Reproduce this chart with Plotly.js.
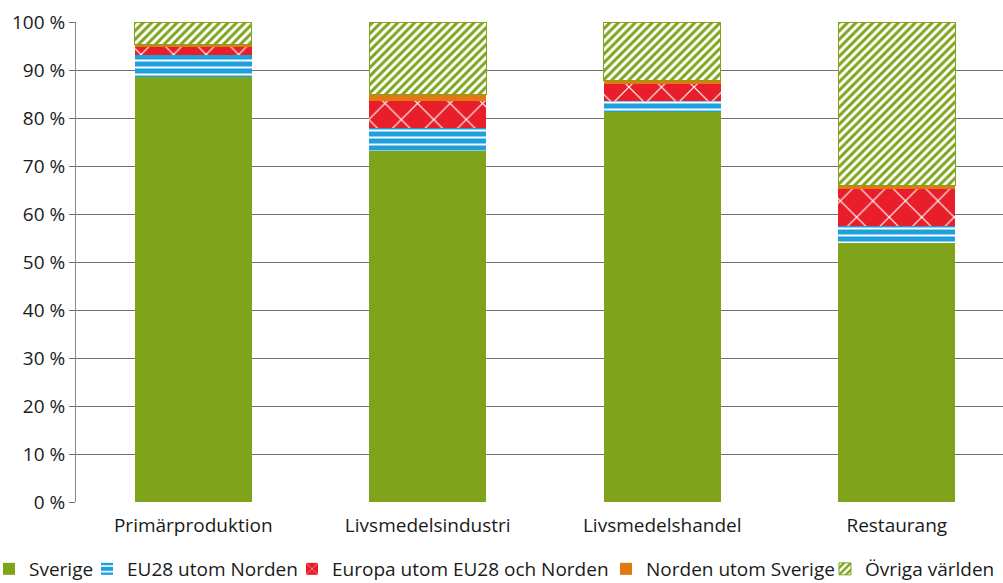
<!DOCTYPE html>
<html>
<head>
<meta charset="utf-8">
<script src="https://cdn.plot.ly/plotly-3.0.1.min.js"></script>
<style>html,body{margin:0;padding:0;background:#fff;}#chart{width:1003px;height:583px;}</style>
</head>
<body>
<div id="chart"></div>
<script>
const categories = ["Primärproduktion", "Livsmedelsindustri", "Livsmedelshandel", "Restaurang"];
const sverige = [88.5, 73.2, 81.3, 54.0];
const eu28 = [4.6, 4.8, 2.3, 3.6];
const europa = [1.6, 5.5, 3.5, 7.6];
const norden = [0.7, 1.4, 0.7, 0.7];
const ovriga = [4.6, 15.1, 12.2, 34.1];
const seriesNames = ["Sverige", "EU28 utom Norden", "Europa utom EU28 och Norden", "Norden utom Sverige", "Övriga världen"];
const yTicks = [0, 10, 20, 30, 40, 50, 60, 70, 80, 90, 100];

const GREEN = "#7fa31b", BLUE = "#1ea0dc", RED = "#e81f2b", ORANGE = "#e07a10";
const font = "Open Sans, Noto Sans, sans-serif";
const W = 1003, H = 583, ML = 76, MR = 0, MT = 22, MB = 81;
const plotW = W - ML - MR, plotH = H - MT - MB;

const traces = [
  {name: seriesNames[0], y: sverige, legend: "legend", marker: {color: GREEN, line: {width: 0}}},
  {name: seriesNames[1], y: eu28, legend: "legend2", marker: {color: BLUE, line: {width: 0},
     pattern: {shape: "-", fgcolor: "#ffffff", bgcolor: BLUE, size: 7, solidity: 0.28}}},
  {name: seriesNames[2], y: europa, legend: "legend3", marker: {color: RED, line: {width: 0},
     pattern: {shape: "x", fgcolor: "#ffffff", bgcolor: RED, size: 23, solidity: 0.1}}},
  {name: seriesNames[3], y: norden, legend: "legend4", marker: {color: ORANGE, line: {width: 0}}},
  {name: seriesNames[4], y: ovriga, legend: "legend5", marker: {color: GREEN, line: {width: 1, color: GREEN},
     pattern: {shape: "/", fgcolor: GREEN, bgcolor: "#ffffff", size: 6, solidity: 0.5}}}
].map(t => Object.assign({type: "bar", x: categories, width: 0.5, hoverinfo: "y+name"}, t));

// legend text start positions (pixels), close to the reference
const legendTextPx = [28, 126, 331, 645, 864];
const legendY = (H - MB - 569) / plotH;

const layout = {
  width: W, height: H,
  margin: {l: ML, r: MR, t: MT, b: MB, autoexpand: false},
  barmode: "stack",
  paper_bgcolor: "#fff", plot_bgcolor: "#fff",
  font: {family: font, size: 19, color: "#1a1a1a"},
  xaxis: {
    type: "category", range: [-0.5, 3.453],
    showline: false, ticks: "", showgrid: false, zeroline: false,
    ticklabelstandoff: 10, automargin: false,
    tickfont: {size: 19, color: "#1a1a1a"}
  },
  yaxis: {
    range: [0, 100], tickvals: yTicks, ticktext: yTicks.map(v => v + " %"),
    showgrid: true, gridcolor: "#707070", gridwidth: 1,
    showline: true, linecolor: "#8a8a8a", linewidth: 1,
    ticks: "outside", ticklen: 6, tickcolor: "#707070", automargin: false,
    zeroline: false, tickfont: {size: 19, color: "#1a1a1a"}
  },
  showlegend: true
};
["legend", "legend2", "legend3", "legend4", "legend5"].forEach((k, i) => {
  layout[k] = {
    orientation: "h", x: (legendTextPx[i] - 39 - ML) / plotW, xanchor: "left",
    y: legendY, yanchor: "middle", bgcolor: "rgba(0,0,0,0)", borderwidth: 0,
    font: {size: 19, color: "#1a1a1a"}, itemwidth: 30
  };
});

Plotly.newPlot("chart", traces, layout, {displayModeBar: false, staticPlot: true});
</script>
</body>
</html>
